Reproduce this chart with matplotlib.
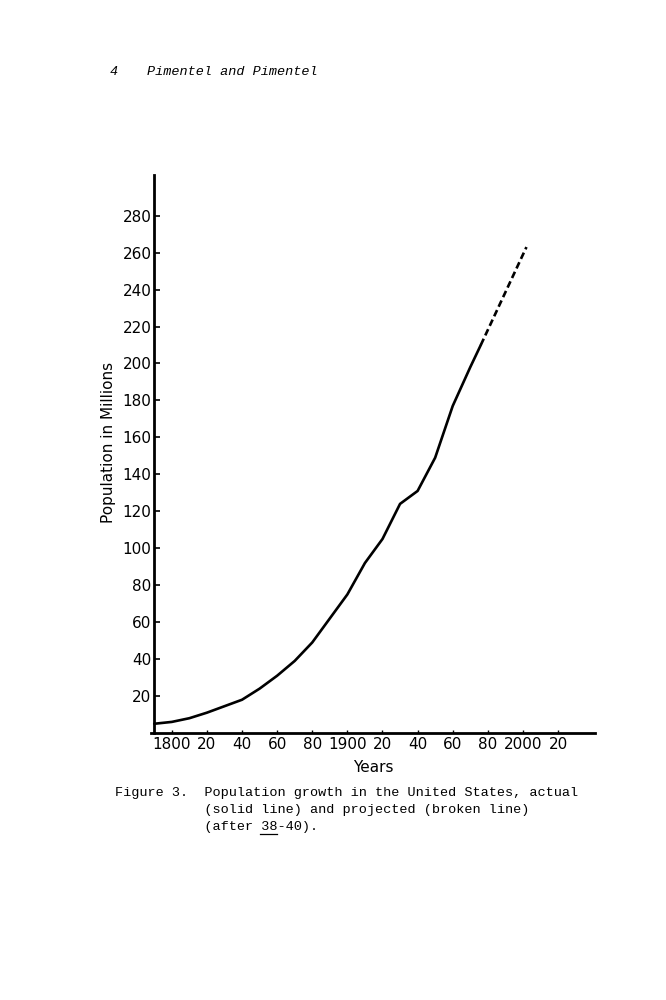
import matplotlib
matplotlib.use("Agg")
import matplotlib.pyplot as plt
from matplotlib.lines import Line2D

# census years (actual, solid line)
years = [1790, 1800, 1810, 1820, 1830, 1840, 1850, 1860, 1870, 1880,
         1890, 1900, 1910, 1920, 1930, 1940, 1950, 1960, 1970, 1976]
pop = [5, 6, 8, 11, 14.5, 18, 24, 31, 39, 49,
       62, 75, 92, 105, 124, 131, 149, 177, 198, 210]

# projection (broken line)
proj_years = [1976, 2002]
proj_pop = [210, 263]

ytick_vals = list(range(20, 281, 20))
xtick_vals = list(range(1800, 2021, 20))
xtick_labels = ["1800", "20", "40", "60", "80", "1900", "20", "40", "60", "80", "2000", "20"]

fig = plt.figure(figsize=(6.66, 10), dpi=100)
ax = fig.add_axes([0.2263, 0.267, 0.667, 0.558])

ax.plot(years, pop, color="black", lw=1.9, solid_capstyle="round")
ax.plot(proj_years, proj_pop, color="black", lw=1.9, linestyle=(0, (2.6, 1.4)))

ax.set_xlim(1788, 2041)
ax.set_ylim(0, 302)
ax.spines["top"].set_visible(False)
ax.spines["right"].set_visible(False)
ax.spines["left"].set_position(("data", 1790))
ax.spines["left"].set_linewidth(2.0)
ax.spines["bottom"].set_linewidth(2.0)

ax.set_yticks(ytick_vals)
ax.set_yticklabels([str(v) for v in ytick_vals])
ax.set_xticks(xtick_vals)
ax.set_xticklabels(xtick_labels)
ax.tick_params(axis="y", direction="in", length=4, width=1.2, pad=2, labelsize=11)
ax.tick_params(axis="x", direction="in", length=2, width=1.0, pad=3, labelsize=11)

ax.set_ylabel("Population in Millions", fontsize=11)
ax.set_xlabel("Years", fontsize=11, labelpad=6)
ax.yaxis.set_label_coords(-0.078, 0.52)

# page header
mono = "Liberation Mono"
fig.text(110 / 666, 1 - 72 / 1000, "4", family=mono, style="italic", fontsize=9.7, va="center")
fig.text(147 / 666, 1 - 72 / 1000, "Pimentel and Pimentel", family=mono, style="italic",
         fontsize=9.7, va="center")

# caption
cap = ("Figure 3.  Population growth in the United States, actual\n"
       "           (solid line) and projected (broken line)\n"
       "           (after 38-40).")
fig.text(115 / 666, 1 - 787 / 1000, cap, family=mono, fontsize=9.7, va="top",
         linespacing=1.55)
fig.add_artist(Line2D([259.5 / 666, 276.5 / 666], [1 - 834 / 1000, 1 - 834 / 1000],
                      color="black", lw=0.9, transform=fig.transFigure))

fig.savefig("out.png", dpi=100, facecolor="white")
